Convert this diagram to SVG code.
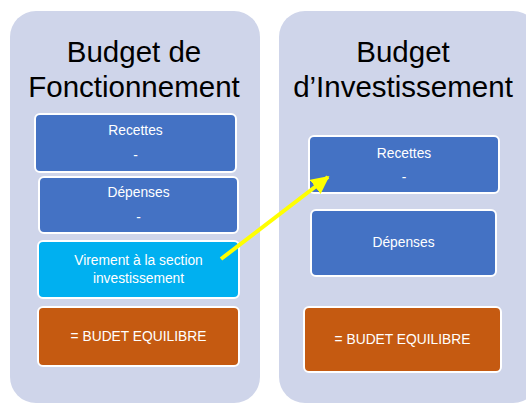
<svg xmlns="http://www.w3.org/2000/svg" width="526" height="403" viewBox="0 0 526 403">
<style>
.panel{fill:#CFD5EA}
.box{stroke:#FFFFFF;stroke-width:2}
.blue{fill:#4472C4}
.cyan{fill:#00B0F0}
.orange{fill:#C55A11}
.title{font-family:"Liberation Sans",Arial,sans-serif;font-size:29.5px;fill:#000000;text-anchor:middle}
.lbl{font-family:"Liberation Sans",Arial,sans-serif;font-size:13.8px;fill:#FFFFFF;text-anchor:middle}
</style>
<defs>
<marker id="ah" viewBox="0 0 10 10" refX="9" refY="5" markerWidth="4.5" markerHeight="4.5" orient="auto" markerUnits="strokeWidth">
<path d="M0,0 L10,5 L0,10 z" fill="#FFFF00"/>
</marker>
</defs>
<rect width="526" height="403" fill="#FFFFFF"/>
<g id="panel-fonctionnement">
<rect class="panel" x="10" y="11" width="250" height="392" rx="26"/>
<text class="title" x="134" y="62">Budget de</text>
<text class="title" x="134" y="97">Fonctionnement</text>
</g>
<g id="panel-investissement">
<rect class="panel" x="279" y="11" width="260" height="392" rx="26"/>
<text class="title" x="403" y="62">Budget</text>
<text class="title" x="403" y="97">d’Investissement</text>
</g>
<g id="f-recettes">
<rect class="box blue" x="35" y="114" width="201" height="58" rx="5"/>
<text class="lbl" x="135.5" y="135">Recettes</text>
<text class="lbl" x="135.5" y="160">-</text>
</g>
<g id="f-depenses">
<rect class="box blue" x="39" y="177" width="199" height="56" rx="5"/>
<text class="lbl" x="138.5" y="197">Dépenses</text>
<text class="lbl" x="138.5" y="222">-</text>
</g>
<g id="f-virement">
<rect class="box cyan" x="38" y="241" width="201" height="57" rx="5"/>
<text class="lbl" x="138.5" y="265">Virement à la section</text>
<text class="lbl" x="138.5" y="283">investissement</text>
</g>
<g id="f-equilibre">
<rect class="box orange" x="38" y="307" width="201" height="59" rx="5"/>
<text class="lbl" x="138.5" y="341">= BUDET EQUILIBRE</text>
</g>
<g id="i-recettes">
<rect class="box blue" x="309" y="136" width="190" height="57" rx="5"/>
<text class="lbl" x="404" y="158">Recettes</text>
<text class="lbl" x="404" y="182">-</text>
</g>
<g id="i-depenses">
<rect class="box blue" x="311" y="210" width="185" height="66" rx="5"/>
<text class="lbl" x="403.5" y="247">Dépenses</text>
</g>
<g id="i-equilibre">
<rect class="box orange" x="304" y="307" width="197" height="65" rx="5"/>
<text class="lbl" x="402.5" y="344">= BUDET EQUILIBRE</text>
</g>
<g id="connectors">
<line x1="221" y1="259" x2="328" y2="177" stroke="#FFFF00" stroke-width="4" marker-end="url(#ah)"/>
</g>
</svg>
